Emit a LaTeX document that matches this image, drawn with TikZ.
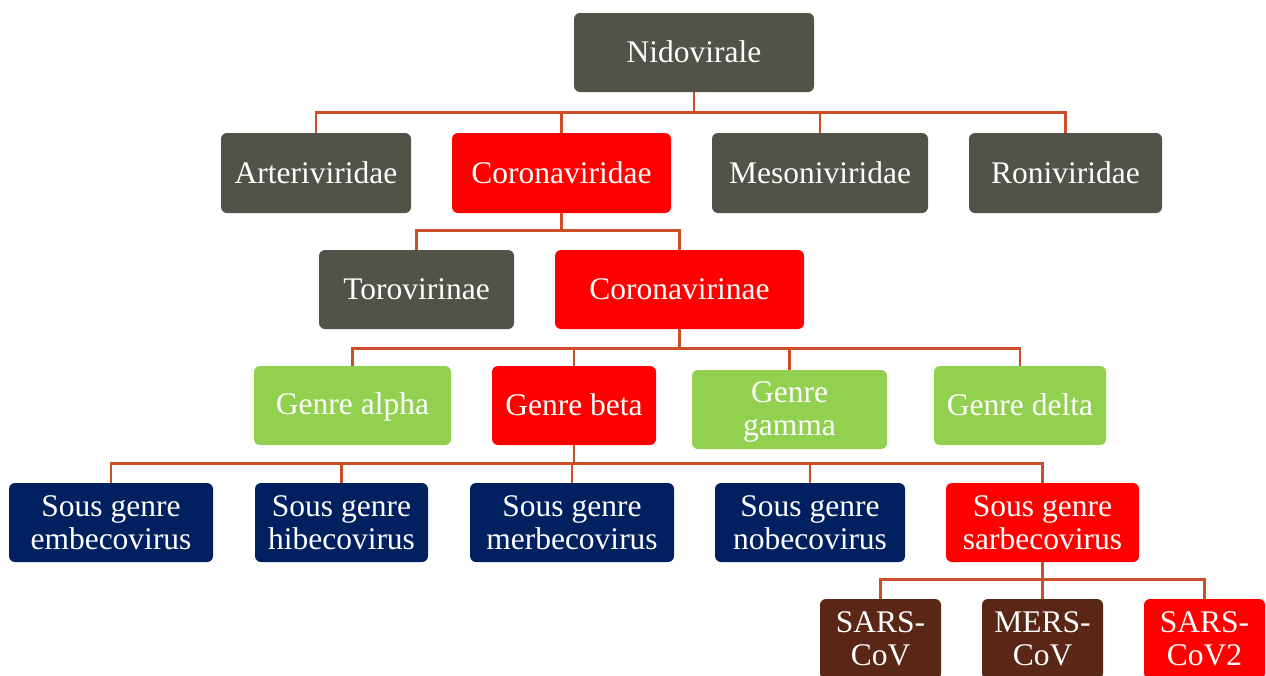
\documentclass[tikz,border=0pt]{standalone}
\usepackage{fontspec}
\setmainfont{Liberation Serif}
\definecolor{boxgray}{RGB}{82,82,72}
\definecolor{boxred}{RGB}{255,0,0}
\definecolor{boxgreen}{RGB}{146,208,80}
\definecolor{boxnavy}{RGB}{0,32,96}
\definecolor{boxbrown}{RGB}{90,38,22}
\definecolor{linkcol}{RGB}{204,78,40}
\newcommand\mys{\rule[-4.2pt]{0pt}{29.2pt}}
\begin{document}
\begin{tikzpicture}[x=1pt,y=-1pt,
  box/.style={rectangle, rounded corners=6pt, draw=none, inner sep=0pt, align=center,
    text=white, font=\fontsize{31.5}{33}\selectfont},
  gbox/.style={box, fill=boxgray},
  rbox/.style={box, fill=boxred},
  grbox/.style={box, fill=boxgreen},
  nbox/.style={box, fill=boxnavy},
  bbox/.style={box, fill=boxbrown},
  link/.style={draw=linkcol, line width=2.7pt}]
\useasboundingbox (0,0) rectangle (1266,675);
\clip (0,0) rectangle (1266,675);
\fill[white] (0,0) rectangle (1266,675);
% row 1
\node[gbox, minimum width=240pt, minimum height=79pt] (nido) at (694,52.5) {\mys Nidovirale};
% row 2
\node[gbox, minimum width=190pt, minimum height=80pt] (art) at (316,173) {\mys Arteriviridae};
\node[rbox, minimum width=219pt, minimum height=80pt] (cor) at (561.5,173) {\mys Coronaviridae};
\node[gbox, minimum width=216pt, minimum height=80pt] (meso) at (820,173) {\mys Mesoniviridae};
\node[gbox, minimum width=193pt, minimum height=80pt] (roni) at (1065.5,173) {\mys Roniviridae};
% row 3
\node[gbox, minimum width=195pt, minimum height=79pt] (toro) at (416.5,289.5) {\mys Torovirinae};
\node[rbox, minimum width=249pt, minimum height=79pt] (corin) at (679.5,289.5) {\mys Coronavirinae};
% row 4
\node[grbox, minimum width=197pt, minimum height=79pt] (alpha) at (352.5,405.5) {\mys Genre alpha};
\node[rbox, minimum width=164pt, minimum height=79pt] (beta) at (574,405.5) {\mys Genre beta};
\node[grbox, minimum width=195pt, minimum height=79pt] (gamma) at (789.5,409.5) {\mys Genre\\\mys gamma};
\node[grbox, minimum width=172pt, minimum height=79pt] (delta) at (1020,405.5) {\mys Genre delta};
% row 5
\node[nbox, minimum width=204pt, minimum height=79pt] (embe) at (111,522.5) {\mys Sous genre\\\mys embecovirus};
\node[nbox, minimum width=173pt, minimum height=79pt] (hibe) at (341.5,522.5) {\mys Sous genre\\\mys hibecovirus};
\node[nbox, minimum width=204pt, minimum height=79pt] (merb) at (572,522.5) {\mys Sous genre\\\mys merbecovirus};
\node[nbox, minimum width=190pt, minimum height=79pt] (nobe) at (810,522.5) {\mys Sous genre\\\mys nobecovirus};
\node[rbox, minimum width=193pt, minimum height=79pt] (sarb) at (1042.5,522.5) {\mys Sous genre\\\mys sarbecovirus};
% row 6
\node[bbox, minimum width=121pt, minimum height=80pt] (sars) at (880.5,639) {\mys SARS-\\\mys CoV};
\node[bbox, minimum width=121pt, minimum height=80pt] (mers) at (1042.5,639) {\mys MERS-\\\mys CoV};
\node[rbox, minimum width=121pt, minimum height=80pt] (sars2) at (1204.5,639) {\mys SARS-\\\mys CoV2};
% connectors row1 -> row2
\draw[link] (nido.south) -- ++(0,21);
\draw[link] (art.north) -- ++(0,-20) -| (roni.north);
\draw[link] (cor.north) -- ++(0,-20);
\draw[link] (meso.north) -- ++(0,-20);
% row2 -> row3
\draw[link] (cor.south) -- ++(0,18);
\draw[link] (toro.north) -- ++(0,-19) -| (corin.north);
% row3 -> row4
\draw[link] (corin.south) -- ++(0,20);
\draw[link] (alpha.north) -- ++(0,-17) -| (delta.north);
\draw[link] (beta.north) -- ++(0,-17);
\draw[link] (gamma.north) -- ++(0,-21);
% row4 -> row5
\draw[link] (beta.south) -- ++(0,19);
\draw[link] (embe.north) -- ++(0,-19) -| (sarb.north);
\draw[link] (hibe.north) -- ++(0,-19);
\draw[link] (merb.north) -- ++(0,-19);
\draw[link] (nobe.north) -- ++(0,-19);
% row5 -> row6
\draw[link] (sarb.south) -- ++(0,18);
\draw[link] (sars.north) -- ++(0,-19) -| (sars2.north);
\draw[link] (mers.north) -- ++(0,-19);
\end{tikzpicture}
\end{document}
